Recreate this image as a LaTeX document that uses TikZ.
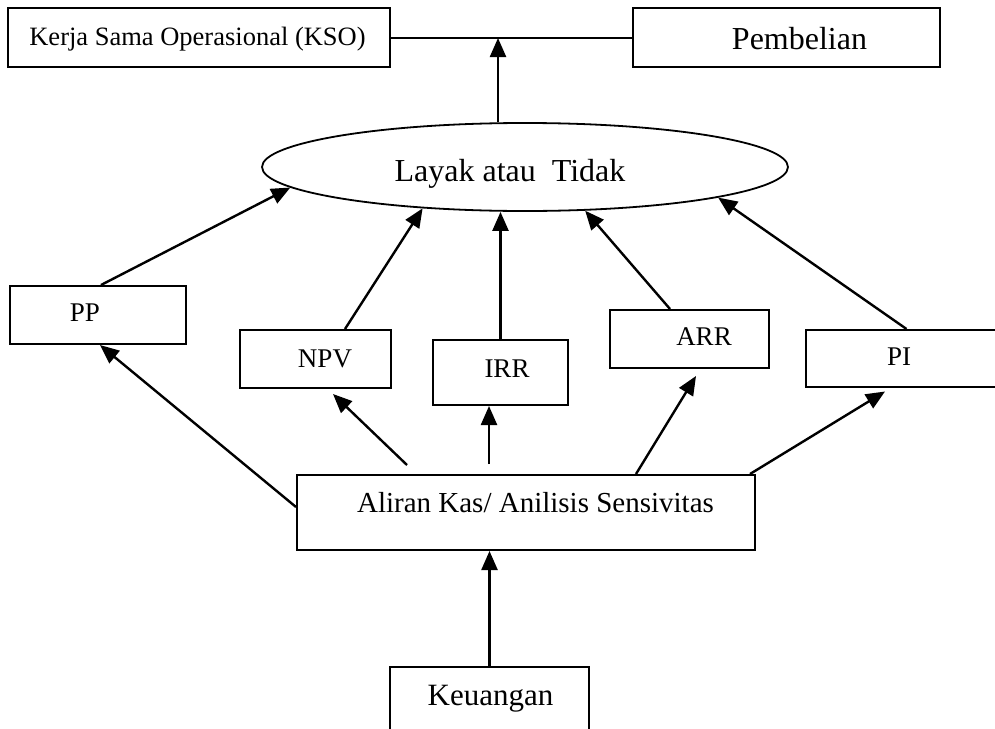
\documentclass[tikz,border=0pt]{standalone}
\usepackage{fontspec}
\setmainfont{Liberation Serif}
\usetikzlibrary{arrows.meta,shapes.geometric}
\tikzset{
  box/.style={draw=black, line width=2pt, fill=none, inner sep=0pt},
  ell/.style={draw=black, line width=1.8pt, ellipse, inner sep=0pt},
  lbl/.style={anchor=base, inner sep=0pt, text=black},
  conn/.style={draw=black, line width=2.4pt},
  arr/.style={conn, -{Triangle[length=19pt,width=16pt]}}
}
\newcommand{\fs}[1]{\fontsize{#1}{#1}\selectfont}
\begin{document}
\begin{tikzpicture}[x=1pt, y=-1pt]
\useasboundingbox (0,0) rectangle (995,728);
\clip (0,0) rectangle (995,728);
\fill[white] (0,0) rectangle (995,728);

% boxes
\node[box, minimum width=382pt, minimum height=59pt] (kso) at (199,37.5) {};
\node[box, minimum width=307pt, minimum height=59pt] (pem) at (786.5,37.5) {};
\node[ell, minimum width=526pt, minimum height=88pt] (ell) at (525,167) {};
\node[box, minimum width=176pt, minimum height=58pt] (pp) at (98,315) {};
\node[box, minimum width=151pt, minimum height=58pt] (npv) at (315.5,359) {};
\node[box, minimum width=135pt, minimum height=65pt] (irr) at (500.5,372.5) {};
\node[box, minimum width=159pt, minimum height=58pt] (arr) at (689.5,339) {};
\node[box, minimum width=201pt, minimum height=57pt] (pi) at (906.5,358.5) {};
\node[box, minimum width=458pt, minimum height=75pt] (al) at (526,512.5) {};
\node[box, minimum width=199pt, minimum height=80pt] (keu) at (489.5,707) {};

% texts
\node[lbl] (tkso) at (197.5,45) {\fs{26.5}Kerja Sama Operasional (KSO)};
\node[lbl] (tpem) at (799.5,49) {\fs{32}Pembelian};
\node[lbl] (tell) at (510,181) {\fs{32}Layak atau~~Tidak};
\node[lbl] (tpp) at (85,321.5) {\fs{27}PP};
\node[lbl] (tnpv) at (325,367.5) {\fs{27}NPV};
\node[lbl] (tirr) at (507,377.5) {\fs{27}IRR};
\node[lbl] (tarr) at (704,345) {\fs{27}ARR};
\node[lbl] (tpi) at (899,365) {\fs{27}PI};
\node[lbl] (tal) at (535.5,512.5) {\fs{29}Aliran Kas/ Anilisis Sensivitas};
\node[lbl] (tkeu) at (490.5,705) {\fs{31}Keuangan};

% top line and arrow
\coordinate (j) at (498,38);
\draw[conn, line width=2pt] (kso.east) -- (pem.west);
\draw[arr] (ell.north -| j) -- (j);

% upper arrows into ellipse
\draw[arr] ([shift={(3,0)}]pp.north) -- (ell.185.5);
\draw[arr] ([shift={(29.5,0)}]npv.north) -- (ell.202.6);
\draw[arr] (irr.north) -- (ell.south -| irr.north);
\draw[arr] ([shift={(-19.5,0)}]arr.north) -- (ell.324.5);
\draw[arr] (pi.north) -- (ell.351.1);

% lower arrows from Aliran
\draw[arr] ([shift={(0,-5.5)}]al.west) -- ([shift={(2,0)}]pp.south);
\draw[arr] ([shift={(-119,-9)}]al.north) -- ([shift={(17.5,5)}]npv.south);
\draw[arr] ([shift={(-37,-10)}]al.north) -- ([shift={(-11.5,0)}]irr.south);
\draw[arr] ([shift={(110,0)}]al.north) -- ([shift={(6.5,7)}]arr.south);
\draw[arr] ([shift={(224,0)}]al.north) -- ([shift={(-21.5,3.5)}]pi.south);

% Keuangan to Aliran
\draw[arr] (keu.north) -- (al.south -| keu.north);
\end{tikzpicture}
\end{document}
